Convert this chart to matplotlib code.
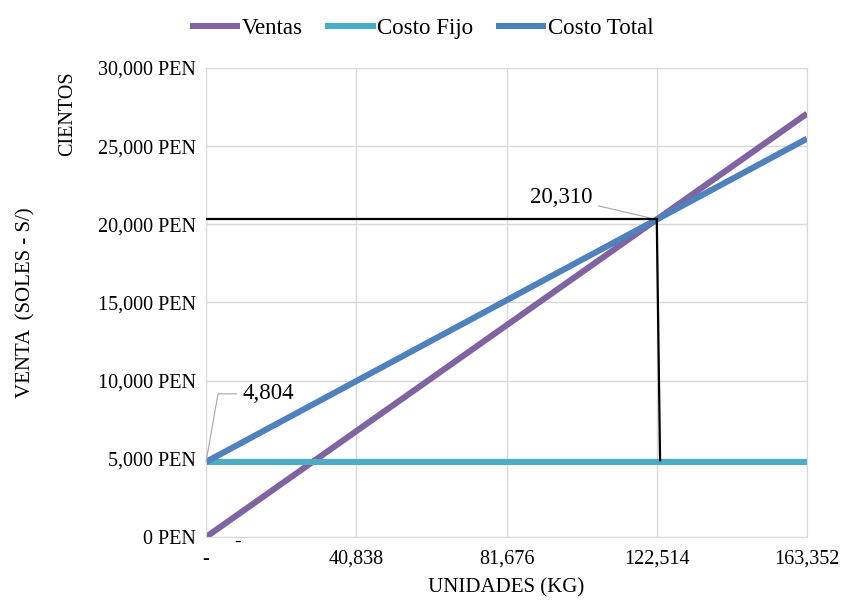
import numpy as np
import matplotlib
matplotlib.use('Agg')
import matplotlib.pyplot as plt
from matplotlib.ticker import FuncFormatter

# datos del punto de equilibrio (cientos de soles)
unidades = [0, 40838, 81676, 122514, 163352]
ventas = [0, 6770, 13540, 20310, 27080]
costo_fijo = [4804, 4804, 4804, 4804, 4804]
costo_total = [4804, 9973, 15141, 20310, 25479]
punto_eq_x = 122514
punto_eq_y = 20310

plt.rcParams['font.family'] = ['Liberation Serif', 'DejaVu Serif']

fig = plt.figure(figsize=(8.43, 6.0), dpi=100)
ax = fig.add_axes([0.2444, 0.105, 0.7129, 0.7817])

ax.plot(unidades, ventas, color='#8064A2', lw=4.4, label='Ventas', solid_capstyle='butt')
ax.plot(unidades, costo_fijo, color='#4BACC6', lw=4.4, label='Costo Fijo', solid_capstyle='butt')
ax.plot(unidades, costo_total, color='#4F81BD', lw=4.4, label='Costo Total', solid_capstyle='butt')

# lineas del punto de equilibrio
ax.plot([0, punto_eq_x], [punto_eq_y, punto_eq_y], color='black', lw=1.6, zorder=5)
ax.plot([punto_eq_x, punto_eq_x + 900], [punto_eq_y, costo_fijo[0] + 100], color='black', lw=1.6, zorder=5)

ax.set_xlim(0, 163352)
ax.set_ylim(0, 30000)
ax.set_xticks(unidades)
ax.set_yticks(np.arange(0, 30001, 5000))
ax.xaxis.set_major_formatter(FuncFormatter(lambda v, p: '-' if v == 0 else f'{v:,.0f}'))
ax.yaxis.set_major_formatter(FuncFormatter(lambda v, p: f'{v:,.0f} PEN'))
ax.tick_params(length=0, labelsize=14.5)
ax.tick_params(axis='x', pad=9)
ax.tick_params(axis='y', pad=7)
ax.grid(True, color='#D9D9D9', lw=1)
for s in ax.spines.values():
    s.set_color('#D9D9D9')

# etiquetas de datos
ax.annotate(f'{punto_eq_y:,}', xy=(punto_eq_x, punto_eq_y), xytext=(-46, 16), textcoords='offset points',
            fontsize=16.5, ha='right', va='center',
            arrowprops=dict(arrowstyle='-', color='#A6A6A6', lw=0.8, shrinkA=2, shrinkB=0))
ax.annotate(f'{costo_fijo[0]:,}', xy=(0, costo_fijo[0]), xytext=(26, 49), textcoords='offset points',
            fontsize=16.5, ha='left', va='center',
            arrowprops=dict(arrowstyle='-', color='#A6A6A6', lw=0.8, shrinkA=2, shrinkB=0,
                            connectionstyle='angle,angleA=0,angleB=80,rad=0'))
ax.annotate('-', xy=(0, 0), xytext=(20, -4), textcoords='offset points', fontsize=14, ha='left', va='center')

ax.set_ylabel('VENTA  (SOLES - S/)', fontsize=15)
ax.yaxis.set_label_coords(-0.283, 0.5)
ax.set_xlabel('UNIDADES (KG)', fontsize=15, va='top')
ax.xaxis.set_label_coords(0.5, -0.088)
fig.text(0.08, 0.81, 'CIENTOS', rotation=90, fontsize=14.5, ha='center', va='center')

fig.legend(loc='upper center', bbox_to_anchor=(0.5, 1.005), ncol=3, frameon=False, fontsize=16.5,
           handlelength=2.2, handletextpad=0.05, columnspacing=1.0)

fig.savefig('out.png', dpi=100)
